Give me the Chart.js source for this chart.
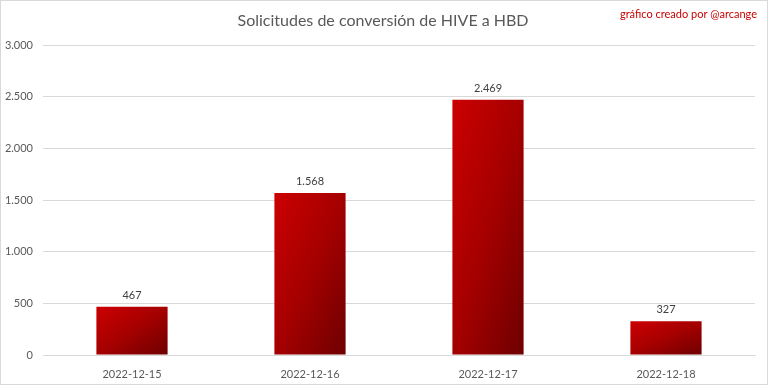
<!DOCTYPE html>
<html>
<head>
<meta charset="utf-8">
<script src="https://cdn.jsdelivr.net/npm/chart.js@4/dist/chart.umd.min.js"></script>
<style>
  html, body { margin: 0; padding: 0; background: #fff; }
  canvas { display: block; }
</style>
</head>
<body>
<canvas id="conv-chart" width="768" height="385"></canvas>
<script>
const labels = ['2022-12-15', '2022-12-16', '2022-12-17', '2022-12-18']
const amounts = [467, 1568, 2469, 327]
const yTicks = [0, 500, 1000, 1500, 2000, 2500, 3000]

const chartTitle = 'Solicitudes de conversión de HIVE a HBD'
const credit = 'gráfico creado por @arcange'
const font = 'Lato, "Open Sans", sans-serif'
const barPct = 0.4

const fmt = v => v.toLocaleString('de-DE')

// corner-to-corner gradient per bar (box-relative, like the office style)
function barFill(context) {
  const chart = context.chart
  const xs = chart.scales.x, ys = chart.scales.y
  if (!chart.chartArea || !xs || !ys || context.dataIndex == null) return '#b00000'
  const cx = xs.getPixelForValue(context.dataIndex)
  const w = (xs.width / labels.length) * barPct
  const top = ys.getPixelForValue(amounts[context.dataIndex])
  const h = Math.max(1, ys.getPixelForValue(0) - top)
  const x0 = cx - w / 2
  const t = 2 / (1 / (w * w) + 1 / (h * h))
  const g = chart.ctx.createLinearGradient(x0, top, x0 + t / w, top + t / h)
  g.addColorStop(0, '#cc0000')
  g.addColorStop(0.5, '#a50000')
  g.addColorStop(1, '#6e0000')
  return g
}

const decor = {
  id: 'decor',
  afterDatasetsDraw(chart) {
    const ctx = chart.ctx
    ctx.save()
    ctx.font = '11px ' + font
    ctx.fillStyle = '#404040'
    ctx.textAlign = 'center'
    ctx.textBaseline = 'bottom'
    chart.getDatasetMeta(0).data.forEach((bar, i) => {
      ctx.fillText(fmt(amounts[i]), bar.x, bar.y - 6)
    })
    ctx.restore()
  },
  afterDraw(chart) {
    const ctx = chart.ctx
    ctx.save()
    ctx.font = '16px ' + font
    ctx.fillStyle = '#595959'
    ctx.textAlign = 'center'
    ctx.textBaseline = 'middle'
    ctx.fillText(chartTitle, 383, 21)
    ctx.font = '11px ' + font
    ctx.fillStyle = '#c80000'
    ctx.textAlign = 'right'
    ctx.fillText(credit, 757, 14)
    ctx.strokeStyle = '#d9d9d9'
    ctx.lineWidth = 1
    ctx.strokeRect(0.5, 0.5, chart.width - 1, chart.height - 1)
    ctx.restore()
  }
}

new Chart(document.getElementById('conv-chart').getContext('2d'), {
  type: 'bar',
  data: {
    labels,
    datasets: [{
      data: amounts,
      backgroundColor: barFill,
      barPercentage: barPct,
      categoryPercentage: 1
    }]
  },
  options: {
    responsive: false,
    animation: false,
    devicePixelRatio: 1,
    layout: { padding: { top: 45, right: 13, bottom: 0, left: 0 } },
    plugins: { legend: { display: false }, tooltip: { enabled: false }, title: { display: false } },
    scales: {
      x: {
        grid: { display: false },
        border: { color: '#d9d9d9' },
        ticks: { color: '#595959', font: { family: font, size: 11 }, padding: 5, maxRotation: 0, autoSkip: false },
        afterFit(axis) { axis.height = 30 }
      },
      y: {
        min: 0,
        max: 3000,
        afterBuildTicks(axis) { axis.ticks = yTicks.map(v => ({ value: v })) },
        grid: { color: '#d9d9d9', drawTicks: false },
        border: { display: false },
        ticks: { color: '#595959', font: { family: font, size: 11 }, padding: 10, callback: v => fmt(v) },
        afterFit(axis) { axis.width = 43 }
      }
    }
  },
  plugins: [decor]
})
</script>
</body>
</html>
